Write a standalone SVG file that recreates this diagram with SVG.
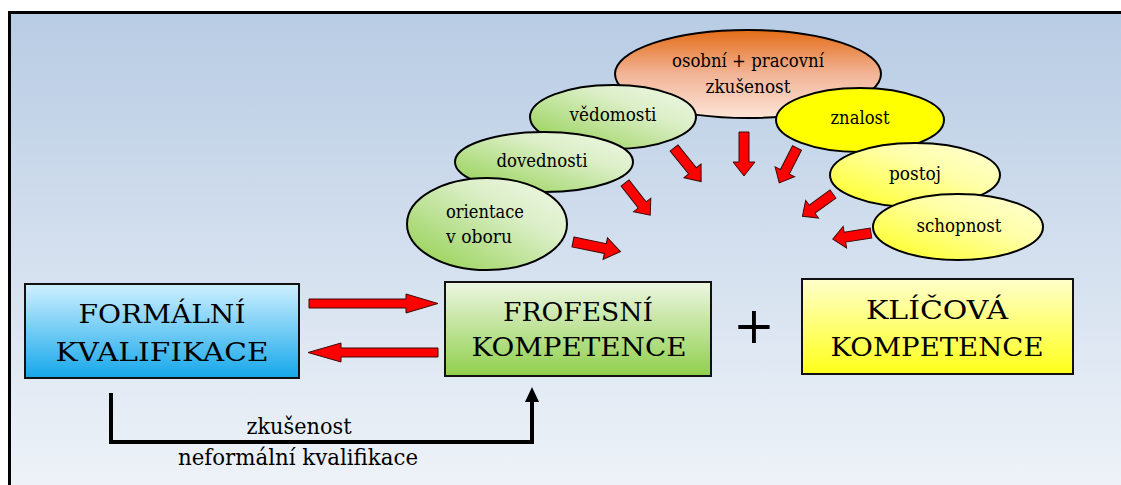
<svg xmlns="http://www.w3.org/2000/svg" width="1121" height="485" viewBox="0 0 1121 485">
  <defs>
    <linearGradient id="bg" x1="0" y1="0" x2="0" y2="1">
      <stop offset="0" stop-color="#b8cce4"/>
      <stop offset="1" stop-color="#f0f4f9"/>
    </linearGradient>
    <linearGradient id="gBlue" x1="0" y1="0" x2="0" y2="1">
      <stop offset="0" stop-color="#cff0ff"/>
      <stop offset="1" stop-color="#15a7ea"/>
    </linearGradient>
    <linearGradient id="gGreenBox" x1="0" y1="0" x2="0" y2="1">
      <stop offset="0" stop-color="#edf6e2"/>
      <stop offset="1" stop-color="#90cf4c"/>
    </linearGradient>
    <linearGradient id="gYellowBox" x1="0" y1="0" x2="0" y2="1">
      <stop offset="0" stop-color="#ffffcc"/>
      <stop offset="1" stop-color="#ffff1a"/>
    </linearGradient>
    <linearGradient id="gGreen" x1="1" y1="0" x2="0" y2="1">
      <stop offset="0" stop-color="#f0f8e8"/>
      <stop offset="0.35" stop-color="#dcefc8"/>
      <stop offset="1" stop-color="#8fce4a"/>
    </linearGradient>
    <linearGradient id="gOrange" x1="0" y1="0" x2="0" y2="1">
      <stop offset="0" stop-color="#e46c16"/>
      <stop offset="0.5" stop-color="#f2b497"/>
      <stop offset="1" stop-color="#fce4d6"/>
    </linearGradient>
    <linearGradient id="gPale" x1="1" y1="0" x2="0" y2="1">
      <stop offset="0" stop-color="#ffffd8"/>
      <stop offset="0.4" stop-color="#ffffa8"/>
      <stop offset="1" stop-color="#ffff1a"/>
    </linearGradient>
    <!-- short red block arrow pointing along +x -->
    <path id="redArrow" d="M0,-5 H30 V-11 L44,0 L30,11 V5 H0 Z"/>
  </defs>
  <style>
    .box { stroke: #111; stroke-width: 2; }
    .ell { stroke: #000; stroke-width: 2; }
    .serif { font-family: "DejaVu Serif", "Liberation Serif", serif; fill: #000; }
    .big { font-size: 26px; text-anchor: middle; }
    .lbl { font-size: 18px; text-anchor: middle; }
    .left { text-anchor: start; }
    .note { font-size: 22px; text-anchor: middle; }
    .red { fill: #ff0000; stroke: #3a0a0a; stroke-width: 1; }
  </style>

  <!-- framed background -->
  <rect x="0" y="0" width="1121" height="485" fill="#ffffff"/>
  <rect x="9.5" y="12.5" width="1130" height="490" fill="url(#bg)" stroke="#000" stroke-width="3"/>

  <!-- surrounding ovals -->
  <g id="node-zkusenost">
    <ellipse class="ell" cx="748" cy="74" rx="133" ry="44" fill="url(#gOrange)"/>
    <text class="serif lbl" x="748" y="67" textLength="152" lengthAdjust="spacingAndGlyphs">osobní + pracovní</text>
    <text class="serif lbl" x="748" y="93" textLength="85" lengthAdjust="spacingAndGlyphs">zkušenost</text>
  </g>
  <g id="node-vedomosti">
    <ellipse class="ell" cx="613" cy="117" rx="83" ry="32" fill="url(#gGreen)"/>
    <text class="serif lbl" x="613" y="121" textLength="87" lengthAdjust="spacingAndGlyphs">vědomosti</text>
  </g>
  <g id="node-dovednosti">
    <ellipse class="ell" cx="544" cy="162" rx="89" ry="30" fill="url(#gGreen)"/>
    <text class="serif lbl" x="542" y="167" textLength="91" lengthAdjust="spacingAndGlyphs">dovednosti</text>
  </g>
  <g id="node-orientace">
    <ellipse class="ell" cx="487" cy="224" rx="80" ry="46" fill="url(#gGreen)"/>
    <text class="serif lbl left" x="446" y="218" textLength="78" lengthAdjust="spacingAndGlyphs">orientace</text>
    <text class="serif lbl left" x="446" y="243" textLength="66" lengthAdjust="spacingAndGlyphs">v oboru</text>
  </g>
  <g id="node-znalost">
    <ellipse class="ell" cx="860" cy="120" rx="84" ry="32" fill="#ffff00"/>
    <text class="serif lbl" x="860" y="124" textLength="59" lengthAdjust="spacingAndGlyphs">znalost</text>
  </g>
  <g id="node-postoj">
    <ellipse class="ell" cx="915" cy="175" rx="85" ry="32" fill="url(#gPale)"/>
    <text class="serif lbl" x="915" y="180" textLength="52" lengthAdjust="spacingAndGlyphs">postoj</text>
  </g>
  <g id="node-schopnost">
    <ellipse class="ell" cx="958" cy="227" rx="85" ry="33" fill="url(#gPale)"/>
    <text class="serif lbl" x="959" y="232" textLength="85" lengthAdjust="spacingAndGlyphs">schopnost</text>
  </g>

  <!-- main boxes -->
  <g id="node-formalni">
    <rect class="box" x="25" y="284" width="274" height="94" fill="url(#gBlue)"/>
    <text class="serif big" x="162" y="323" textLength="167" lengthAdjust="spacingAndGlyphs">FORMÁLNÍ</text>
    <text class="serif big" x="162" y="361" textLength="213" lengthAdjust="spacingAndGlyphs">KVALIFIKACE</text>
  </g>
  <g id="node-profesni">
    <rect class="box" x="445" y="282" width="266" height="94" fill="url(#gGreenBox)"/>
    <text class="serif big" x="578" y="321" textLength="150" lengthAdjust="spacingAndGlyphs">FROFESNÍ</text>
    <text class="serif big" x="579" y="356" textLength="215" lengthAdjust="spacingAndGlyphs">KOMPETENCE</text>
  </g>
  <g id="node-klicova">
    <rect class="box" x="802" y="279" width="271" height="95" fill="url(#gYellowBox)"/>
    <text class="serif big" x="937" y="319" textLength="142" lengthAdjust="spacingAndGlyphs">KLÍČOVÁ</text>
    <text class="serif big" x="937" y="356" textLength="213" lengthAdjust="spacingAndGlyphs">KOMPETENCE</text>
  </g>
  <g id="plus">
    <text class="serif" x="754" y="343" font-size="50" text-anchor="middle">+</text>
  </g>

  <!-- connectors -->
  <g id="connectors">
    <use href="#redArrow" class="red" transform="translate(573,242) rotate(11.5) scale(1.1,1)"/>
    <use href="#redArrow" class="red" transform="translate(625,183) rotate(52) scale(0.93,1)"/>
    <use href="#redArrow" class="red" transform="translate(674,148) rotate(51) scale(0.98,1)"/>
    <use href="#redArrow" class="red" transform="translate(744,132) rotate(90)"/>
    <use href="#redArrow" class="red" transform="translate(797,148) rotate(117) scale(0.89,1)"/>
    <use href="#redArrow" class="red" transform="translate(833,194) rotate(144) scale(0.86,1)"/>
    <use href="#redArrow" class="red" transform="translate(871,233) rotate(171) scale(0.88,1)"/>

    <path class="red" d="M309,299 H406 V294 L438,303.5 L406,313 V308 H309 Z"/>
    <path class="red" d="M438,348 H341 V343 L308,352.5 L341,362 V357 H438 Z"/>

    <polyline points="111,393 111,442 532,442 532,400" fill="none" stroke="#000" stroke-width="4"/>
    <path d="M525,402 L532,387 L539,402 Z" fill="#000"/>
    <text class="serif note" x="299" y="434" textLength="105" lengthAdjust="spacingAndGlyphs">zkušenost</text>
    <text class="serif note" x="298" y="465" textLength="240" lengthAdjust="spacingAndGlyphs">neformální kvalifikace</text>
  </g>
</svg>
